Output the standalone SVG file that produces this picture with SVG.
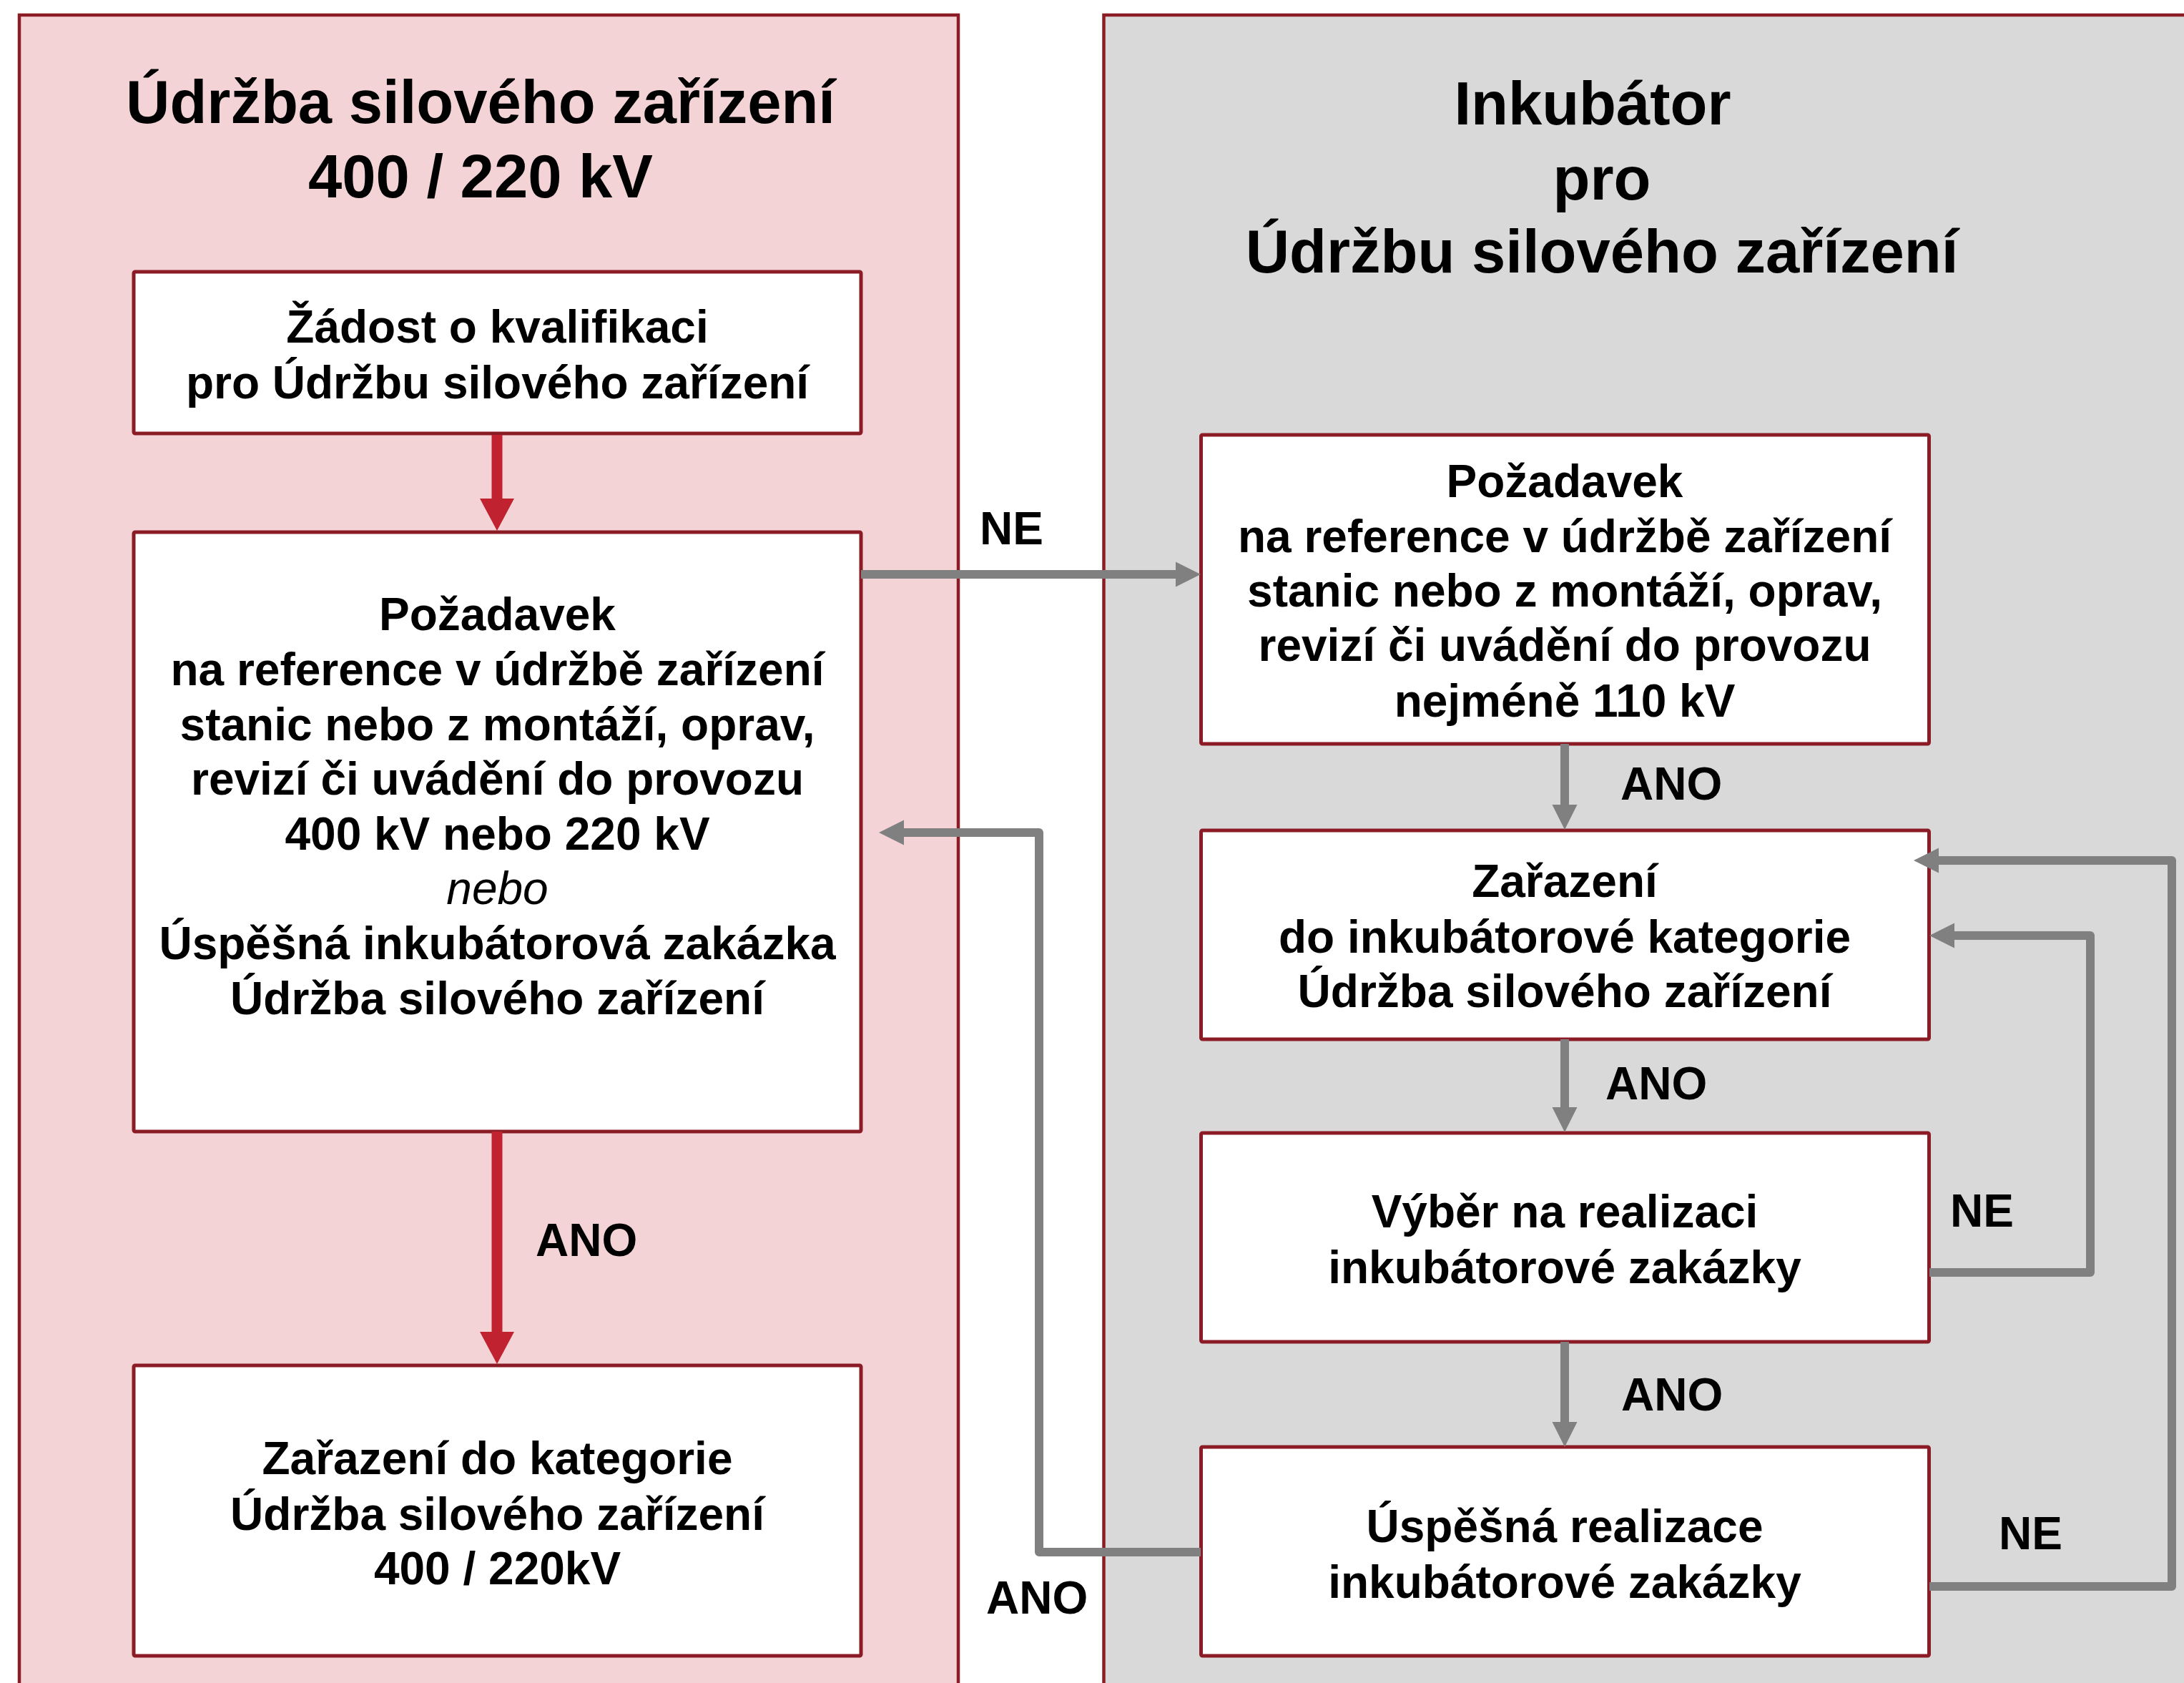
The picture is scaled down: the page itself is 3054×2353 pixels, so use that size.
<svg xmlns="http://www.w3.org/2000/svg" width="3054" height="2353" viewBox="0 0 3054 2353">
<style>
.t{font-family:"Liberation Sans",Arial,sans-serif;font-weight:bold;font-size:64px;fill:#000}
.c{text-anchor:middle}
.h{font-size:85px}
.i{font-style:italic;font-weight:normal}
.box{fill:#fff;stroke:#8B1C25;stroke-width:5}
.gl{fill:none;stroke:#808080;stroke-width:12;stroke-linejoin:round}
.rl{fill:none;stroke:#C0232F;stroke-width:15}
</style>
<defs>
<marker id="ag" markerUnits="userSpaceOnUse" markerWidth="36" markerHeight="36" refX="0" refY="17.5" orient="auto" overflow="visible">
<path d="M0,0 L35,17.5 L0,35 z" fill="#808080"/>
</marker>
<marker id="ar" markerUnits="userSpaceOnUse" markerWidth="46" markerHeight="48" refX="0" refY="24" orient="auto" overflow="visible">
<path d="M0,0 L45,24 L0,48 z" fill="#C0232F"/>
</marker>
</defs>
<rect width="3054" height="2353" fill="#fff"/>
<g id="panel-left">
<rect x="27" y="21" width="1313" height="2360" fill="#F3D3D6" stroke="#8B1C25" stroke-width="4.5"/>
<text class="t c h" x="672" y="172">Údržba silového zařízení</text>
<text class="t c h" x="672" y="276">400 / 220 kV</text>
</g>
<g id="panel-right">
<rect x="1543.5" y="21" width="1530" height="2360" fill="#D9D9D9" stroke="#8B1C25" stroke-width="4.5"/>
<text class="t c h" x="2227" y="174">Inkubátor</text>
<text class="t c h" x="2240" y="279">pro</text>
<text class="t c h" x="2240" y="381">Údržbu silového zařízení</text>
</g>
<g id="node-zadost">
<rect class="box" x="187" y="380" width="1017" height="226" rx="2"/>
<text class="t c" x="695.5" y="479">Žádost o kvalifikaci</text>
<text class="t c" x="695.5" y="557">pro Údržbu silového zařízení</text>
</g>
<g id="node-pozadavek-400">
<rect class="box" x="187" y="744" width="1017" height="838" rx="2"/>
<text class="t c" x="695.5" y="881">Požadavek</text>
<text class="t c" x="695.5" y="958">na reference v údržbě zařízení</text>
<text class="t c" x="695.5" y="1035">stanic nebo z montáží, oprav,</text>
<text class="t c" x="695.5" y="1111">revizí či uvádění do provozu</text>
<text class="t c" x="695.5" y="1188">400 kV nebo 220 kV</text>
<text class="t c i" x="695.5" y="1264">nebo</text>
<text class="t c" x="695.5" y="1341">Úspěšná inkubátorová zakázka</text>
<text class="t c" x="695.5" y="1418">Údržba silového zařízení</text>
</g>
<g id="node-zarazeni-400">
<rect class="box" x="187" y="1909" width="1017" height="406" rx="2"/>
<text class="t c" x="695.5" y="2061">Zařazení do kategorie</text>
<text class="t c" x="695.5" y="2139">Údržba silového zařízení</text>
<text class="t c" x="695.5" y="2215">400 / 220kV</text>
</g>
<g id="node-pozadavek-110">
<rect class="box" x="1679.5" y="608" width="1018" height="432" rx="2"/>
<text class="t c" x="2188" y="695">Požadavek</text>
<text class="t c" x="2188" y="772">na reference v údržbě zařízení</text>
<text class="t c" x="2188" y="848">stanic nebo z montáží, oprav,</text>
<text class="t c" x="2188" y="924">revizí či uvádění do provozu</text>
<text class="t c" x="2188" y="1002">nejméně 110 kV</text>
</g>
<g id="node-zarazeni-inkubator">
<rect class="box" x="1679.5" y="1161" width="1018" height="292" rx="2"/>
<text class="t c" x="2188" y="1254">Zařazení</text>
<text class="t c" x="2188" y="1332">do inkubátorové kategorie</text>
<text class="t c" x="2188" y="1408">Údržba silového zařízení</text>
</g>
<g id="node-vyber">
<rect class="box" x="1679.5" y="1584" width="1018" height="292" rx="2"/>
<text class="t c" x="2188" y="1716">Výběr na realizaci</text>
<text class="t c" x="2188" y="1794">inkubátorové zakázky</text>
</g>
<g id="node-uspesna">
<rect class="box" x="1679.5" y="2023" width="1018" height="292" rx="2"/>
<text class="t c" x="2188" y="2156">Úspěšná realizace</text>
<text class="t c" x="2188" y="2234">inkubátorové zakázky</text>
</g>
<g id="connectors">
<path class="rl" d="M695,608 V697" marker-end="url(#ar)"/>
<path class="rl" d="M695,1582 V1862" marker-end="url(#ar)"/>
<path class="gl" d="M1204,803 H1644" marker-end="url(#ag)"/>
<path class="gl" d="M2188,1040 V1125" marker-end="url(#ag)"/>
<path class="gl" d="M2188,1453 V1548" marker-end="url(#ag)"/>
<path class="gl" d="M2188,1876 V1988" marker-end="url(#ag)"/>
<path class="gl" d="M2698,1779 H2923 V1308 H2733" marker-end="url(#ag)"/>
<path class="gl" d="M2698,2218 H3037 V1203 H2711" marker-end="url(#ag)"/>
<path class="gl" d="M1679,2170 H1453 V1164 H1264" marker-end="url(#ag)"/>
<text class="t" x="1370" y="761">NE</text>
<text class="t" x="749" y="1756">ANO</text>
<text class="t" x="2266" y="1118">ANO</text>
<text class="t" x="2245" y="1537">ANO</text>
<text class="t" x="2267" y="1972">ANO</text>
<text class="t" x="1379" y="2256">ANO</text>
<text class="t" x="2727" y="1715">NE</text>
<text class="t" x="2795" y="2166">NE</text>
</g>
</svg>
